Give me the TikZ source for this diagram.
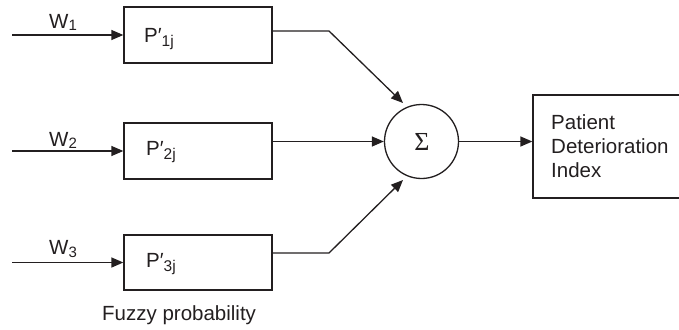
\documentclass[tikz,border=0pt]{standalone}
\usepackage{fontspec}
\setmainfont{Liberation Sans}
\newfontfamily\sigmafont{Liberation Serif}
\usetikzlibrary{arrows.meta}
\definecolor{ink}{RGB}{35,31,32}
\newcommand{\sub}[1]{\raisebox{-4.5pt}{\fontsize{15.5}{16}\selectfont #1}}
\newcommand{\wsub}[1]{\raisebox{-2.5pt}{\fontsize{15}{16}\selectfont #1}}
\begin{document}
\begin{tikzpicture}[x=1pt,y=-1pt,
  every node/.style={text=ink},
  line/.style={draw=ink,line width=1.3pt},
  arrow/.style={line,-{Triangle[length=12pt,width=10pt]}},
  block/.style={draw=ink,line width=1.3pt,rectangle,inner sep=0pt,minimum width=148pt},
  lbl/.style={anchor=base west,inner sep=0pt,font=\fontsize{20.5}{25}\selectfont}]
\useasboundingbox (0,0) rectangle (679,329);

% fuzzy probability blocks
\node[block,minimum height=56pt] (b1) at (198,35) {};
\node[block,minimum height=56pt] (b2) at (198,151) {};
\node[block,minimum height=55pt] (b3) at (198,262.5) {};
\node[lbl] (p1) at (144,42) {P′\sub{1j}};
\node[lbl] (p2) at (146,155) {P′\sub{2j}};
\node[lbl] (p3) at (146,267) {P′\sub{3j}};
\node[lbl] (fz) at (102,320) {Fuzzy probability};

% weights
\coordinate (in1) at (12,35);
\coordinate (in2) at (12,151);
\coordinate (in3) at (12,262.5);
\draw[arrow] (in1) -- (in1 -| b1.west);
\draw[arrow] (in2) -- (in2 -| b2.west);
\draw[arrow] (in3) -- (in3 -| b3.west);
\node[lbl] (w1) at (49,28.5) {W\wsub{1}};
\node[lbl] (w2) at (49,146) {W\wsub{2}};
\node[lbl] (w3) at (49,254.5) {W\wsub{3}};

% summation
\node[draw=ink,line width=1.3pt,circle,minimum size=74pt,inner sep=0pt] (sum) at (421.5,141.5) {};
\node[inner sep=0pt,font=\sigmafont\fontsize{26}{26}\selectfont] (sigma) at (422,142) {Σ};

% output block, running past the right edge
\node[draw=ink,line width=1.3pt,rectangle,inner sep=0pt,minimum width=160pt,
      minimum height=103pt] (out) at (613,146.5) {};
\node[lbl] (t1) at (551,129) {Patient};
\node[lbl] (t2) at (551,153) {Deterioration};
\node[lbl] (t3) at (551,177.5) {Index};

% connectors into the sum
\coordinate (k1) at (329,31);
\coordinate (k3) at (329,253);
\coordinate (e1) at (403,103);
\coordinate (e3) at (403,180);
\draw[arrow] (b1.east |- k1) -- (k1) -- (e1);
\draw[arrow] (b2.east |- sum.west) -- (sum.west);
\draw[arrow] (b3.east |- k3) -- (k3) -- (e3);
\draw[arrow] (sum.east) -- (out.west |- sum.east);
\end{tikzpicture}
\end{document}
